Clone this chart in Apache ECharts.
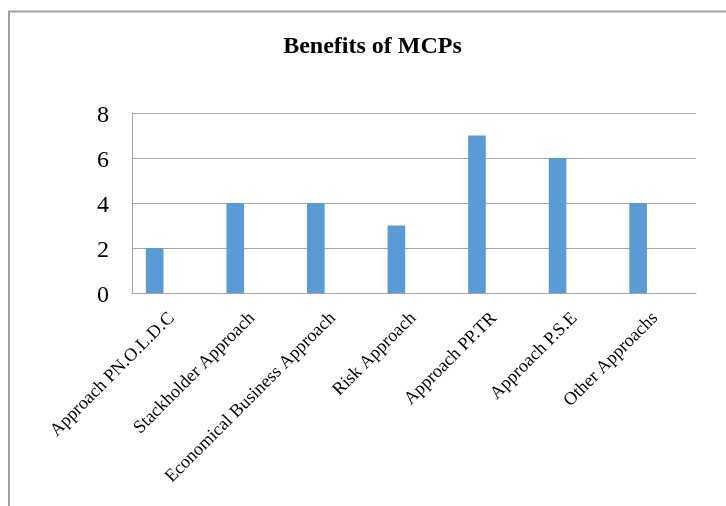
<!DOCTYPE html>
<html>
<head>
<meta charset="utf-8">
<script src="https://cdn.jsdelivr.net/npm/echarts@6/dist/echarts.min.js"></script>
<style>
  html, body { margin: 0; padding: 0; background: #ffffff; }
  #chart { width: 726px; height: 506px; }
</style>
</head>
<body>
<div id="chart"></div>
<script>
// Benefits of MCPs: number of benefits per approach
var categories = [
  'Approach PN.O.L.D.C',
  'Stackholder Approach',
  'Economical Business Approach',
  'Risk Approach',
  'Approach PP.TR',
  'Approach P.S.E',
  'Other Approachs'
];
var benefitCounts = [2, 4, 4, 3, 7, 6, 4];
// Two further series slots of the clustered layout, left empty
var series2Values = [null, null, null, null, null, null, null];
var series3Values = [null, null, null, null, null, null, null];
var yTicks = { min: 0, max: 8, interval: 2 };

var serif = '"Liberation Serif", "Times New Roman", serif';
var gridColor = '#a6a6a6';

var chart = echarts.init(document.getElementById('chart'), null, { renderer: 'canvas' });

function barSeries(name, values) {
  return {
    name: name,
    type: 'bar',
    data: values,
    barWidth: 17.6,
    barGap: '0%',
    itemStyle: { color: '#5b9bd5' },
    silent: true
  };
}

chart.setOption({
  animation: false,
  backgroundColor: '#ffffff',
  graphic: [
    {
      type: 'polyline',
      silent: true,
      shape: { points: [[9, 800], [9, 11.5], [900, 11.5]] },
      style: { stroke: '#a0a0a0', lineWidth: 2, fill: null }
    },
    {
      type: 'text',
      silent: true,
      style: {
        x: 372.5,
        y: 47,
        text: 'Benefits of MCPs',
        align: 'center',
        verticalAlign: 'middle',
        font: 'bold 24px ' + serif,
        fill: '#000000'
      }
    }
  ],
  grid: { left: 132, right: 30, top: 113, bottom: 213, containLabel: false },
  xAxis: {
    type: 'category',
    data: categories,
    boundaryGap: true,
    axisLine: { show: true, lineStyle: { color: gridColor, width: 1 } },
    axisTick: { show: false },
    axisLabel: {
      rotate: 45,
      interval: 0,
      margin: 9,
      padding: [0, 10, 0, 0],
      align: 'right',
      verticalAlign: 'top',
      fontFamily: serif,
      fontSize: 18.2,
      color: '#000000'
    },
    splitLine: { show: false }
  },
  yAxis: {
    type: 'value',
    min: yTicks.min,
    max: yTicks.max,
    interval: yTicks.interval,
    axisLine: { show: true, lineStyle: { color: gridColor, width: 1 } },
    axisTick: { show: false },
    axisLabel: {
      margin: 23,
      formatter: '{v|{value}}',
      rich: {
        v: {
          padding: [6, 0, 0, 0],
          fontFamily: serif,
          fontSize: 24,
          color: '#000000'
        }
      }
    },
    splitLine: { show: true, lineStyle: { color: gridColor, width: 1 } }
  },
  series: [
    barSeries('Benefits', benefitCounts),
    barSeries('Series 2', series2Values),
    barSeries('Series 3', series3Values)
  ]
});
</script>
</body>
</html>
